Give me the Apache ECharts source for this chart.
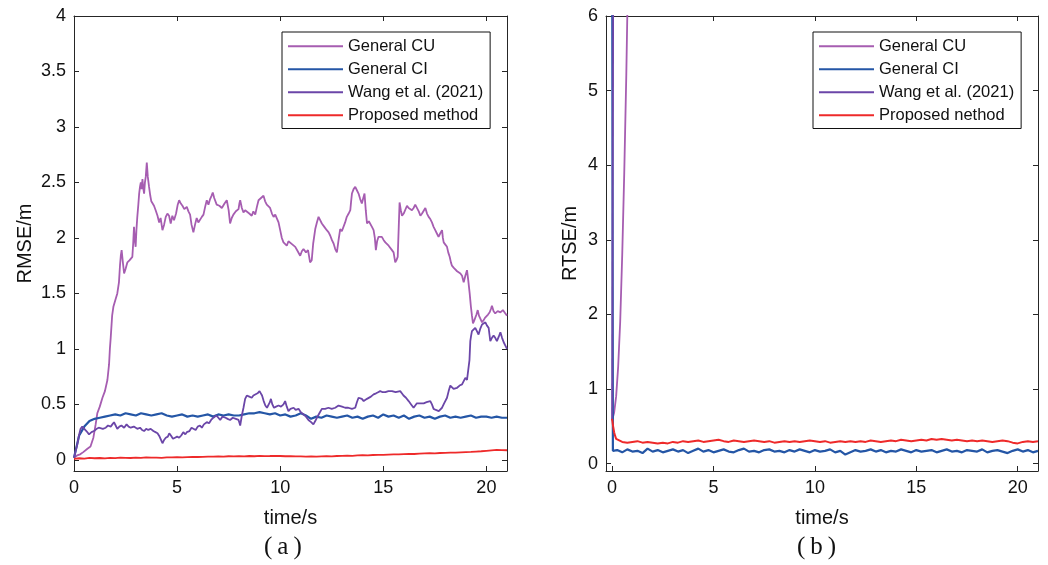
<!DOCTYPE html>
<html>
<head>
<meta charset="utf-8">
<script src="https://cdn.jsdelivr.net/npm/echarts@6/dist/echarts.min.js"></script>
<style>
html,body{margin:0;padding:0;background:#fff;}
#chart{width:1048px;height:565px;}
</style>
</head>
<body>
<div id="chart"></div>
<script>
// ---------- tick labels ----------
const xTicks = [0, 5, 10, 15, 20];
const yTicksA = [0, 0.5, 1, 1.5, 2, 2.5, 3, 3.5, 4];
const yTicksB = [0, 1, 2, 3, 4, 5, 6];
const namesA = ['General CU', 'General CI', 'Wang et al. (2021)', 'Proposed method'];
const namesB = ['General CU', 'General CI', 'Wang et al. (2021)', 'Proposed nethod'];

// ---------- panel (a): RMSE ----------
const cuA = [
[0,0.02],[0.15,0.04],[0.3,0.05],[0.45,0.07],[0.65,0.1],[0.8,0.12],[0.94,0.2],[1.05,0.32],[1.13,0.42],[1.25,0.48],[1.38,0.56],[1.5,0.62],[1.62,0.72],[1.7,0.86],[1.74,1.0],[1.78,1.1],[1.85,1.3],[1.91,1.38],[2.02,1.45],[2.1,1.5],[2.18,1.6],[2.23,1.75],[2.27,1.84],[2.31,1.89],[2.37,1.78],[2.43,1.68],[2.5,1.72],[2.59,1.78],[2.7,1.8],[2.83,1.83],[2.87,1.95],[2.91,2.1],[2.95,1.98],[2.99,1.92],[3.03,2.08],[3.07,2.19],[3.12,2.3],[3.16,2.4],[3.2,2.46],[3.24,2.5],[3.28,2.44],[3.32,2.53],[3.36,2.45],[3.40,2.40],[3.44,2.5],[3.48,2.55],[3.53,2.68],[3.58,2.55],[3.64,2.46],[3.7,2.38],[3.75,2.33],[3.8,2.34],[3.88,2.29],[3.96,2.25],[4.05,2.2],[4.13,2.14],[4.2,2.18],[4.29,2.07],[4.37,2.12],[4.45,2.19],[4.53,2.22],[4.61,2.2],[4.69,2.13],[4.77,2.2],[4.85,2.16],[4.95,2.22],[5.03,2.3],[5.1,2.34],[5.18,2.31],[5.26,2.29],[5.35,2.26],[5.47,2.28],[5.55,2.24],[5.63,2.21],[5.7,2.12],[5.79,2.05],[5.87,2.12],[5.95,2.18],[6.03,2.14],[6.11,2.15],[6.2,2.19],[6.28,2.21],[6.36,2.28],[6.44,2.34],[6.52,2.3],[6.6,2.35],[6.67,2.38],[6.73,2.41],[6.8,2.36],[6.92,2.3],[7.05,2.29],[7.17,2.27],[7.3,2.31],[7.41,2.34],[7.5,2.25],[7.57,2.13],[7.65,2.18],[7.73,2.21],[7.85,2.24],[7.98,2.26],[8.02,2.31],[8.06,2.34],[8.14,2.27],[8.22,2.23],[8.3,2.25],[8.38,2.26],[8.5,2.22],[8.62,2.2],[8.7,2.24],[8.79,2.21],[8.87,2.28],[8.95,2.34],[9.07,2.36],[9.19,2.38],[9.27,2.33],[9.35,2.3],[9.43,2.29],[9.51,2.27],[9.6,2.22],[9.68,2.19],[9.76,2.21],[9.84,2.2],[9.92,2.14],[10.0,2.07],[10.08,2.0],[10.16,1.96],[10.24,1.95],[10.32,1.93],[10.4,1.97],[10.48,1.96],[10.6,1.94],[10.73,1.92],[10.85,1.88],[10.97,1.84],[11.05,1.88],[11.13,1.9],[11.25,1.87],[11.35,1.89],[11.45,1.78],[11.53,1.8],[11.6,1.95],[11.7,2.08],[11.78,2.14],[11.86,2.19],[11.94,2.16],[12.02,2.13],[12.14,2.1],[12.26,2.07],[12.35,2.05],[12.43,2.02],[12.51,1.98],[12.59,1.95],[12.67,1.9],[12.75,1.87],[12.83,1.98],[12.91,2.08],[12.99,2.06],[13.07,2.07],[13.15,2.14],[13.23,2.19],[13.32,2.22],[13.40,2.25],[13.44,2.33],[13.48,2.40],[13.56,2.44],[13.64,2.46],[13.72,2.43],[13.80,2.40],[13.88,2.35],[13.96,2.31],[14.03,2.36],[14.09,2.40],[14.15,2.25],[14.21,2.13],[14.3,2.15],[14.37,2.14],[14.45,2.1],[14.53,2.07],[14.59,2.0],[14.64,1.89],[14.7,1.97],[14.77,2.01],[14.85,2.0],[14.93,2.01],[15.02,1.98],[15.1,1.96],[15.18,1.95],[15.26,1.93],[15.34,1.92],[15.42,1.89],[15.5,1.87],[15.58,1.78],[15.64,1.8],[15.7,1.83],[15.75,2.1],[15.79,2.32],[15.85,2.25],[15.91,2.2],[15.99,2.22],[16.07,2.23],[16.15,2.29],[16.23,2.27],[16.31,2.26],[16.39,2.25],[16.47,2.27],[16.55,2.3],[16.63,2.29],[16.72,2.24],[16.8,2.2],[16.88,2.22],[16.96,2.23],[17.04,2.27],[17.12,2.22],[17.2,2.19],[17.28,2.17],[17.36,2.14],[17.44,2.1],[17.52,2.07],[17.6,2.04],[17.68,2.01],[17.76,2.04],[17.85,2.07],[17.89,2.0],[17.93,1.96],[18.01,1.94],[18.09,1.92],[18.15,1.87],[18.22,1.83],[18.28,1.78],[18.33,1.75],[18.42,1.73],[18.50,1.72],[18.58,1.7],[18.66,1.69],[18.74,1.68],[18.82,1.66],[18.86,1.63],[18.9,1.6],[18.98,1.66],[19.06,1.71],[19.12,1.62],[19.19,1.5],[19.22,1.44],[19.25,1.38],[19.3,1.3],[19.35,1.23],[19.4,1.25],[19.46,1.26],[19.52,1.31],[19.58,1.35],[19.64,1.3],[19.71,1.29],[19.79,1.24],[19.87,1.26],[19.93,1.28],[20.0,1.29],[20.08,1.31],[20.16,1.33],[20.22,1.36],[20.27,1.39],[20.35,1.34],[20.43,1.32],[20.55,1.34],[20.68,1.33],[20.8,1.35],[20.92,1.32],[21,1.3]
];

const wangA = [
[0,0.02],[0.08,0.08],[0.16,0.14],[0.24,0.22],[0.32,0.28],[0.4,0.3],[0.49,0.29],[0.6,0.26],[0.73,0.23],[0.85,0.25],[0.97,0.26],[1.1,0.28],[1.2,0.29],[1.29,0.3],[1.4,0.28],[1.54,0.29],[1.65,0.31],[1.78,0.3],[1.86,0.32],[1.94,0.34],[2.02,0.31],[2.1,0.28],[2.2,0.3],[2.3,0.31],[2.43,0.29],[2.55,0.32],[2.65,0.3],[2.75,0.29],[2.9,0.3],[3.07,0.28],[3.2,0.29],[3.3,0.27],[3.4,0.26],[3.5,0.28],[3.6,0.27],[3.72,0.28],[3.85,0.26],[3.95,0.25],[4.05,0.24],[4.15,0.21],[4.22,0.18],[4.29,0.15],[4.37,0.18],[4.45,0.2],[4.55,0.21],[4.62,0.24],[4.7,0.22],[4.8,0.19],[4.9,0.2],[5.0,0.21],[5.1,0.2],[5.2,0.22],[5.3,0.25],[5.4,0.23],[5.47,0.25],[5.6,0.26],[5.7,0.29],[5.79,0.28],[5.9,0.27],[6.0,0.3],[6.11,0.31],[6.2,0.29],[6.3,0.32],[6.44,0.34],[6.55,0.33],[6.65,0.36],[6.76,0.38],[6.9,0.40],[7.0,0.38],[7.09,0.36],[7.2,0.39],[7.35,0.38],[7.45,0.37],[7.57,0.36],[7.7,0.38],[7.85,0.37],[7.98,0.36],[8.03,0.33],[8.06,0.31],[8.14,0.4],[8.22,0.47],[8.3,0.55],[8.38,0.58],[8.5,0.57],[8.62,0.56],[8.7,0.58],[8.79,0.59],[8.9,0.6],[9.0,0.62],[9.06,0.6],[9.12,0.58],[9.2,0.53],[9.28,0.49],[9.36,0.47],[9.44,0.47],[9.5,0.52],[9.55,0.55],[9.62,0.5],[9.7,0.47],[9.8,0.48],[9.92,0.49],[10.04,0.48],[10.16,0.5],[10.24,0.53],[10.32,0.48],[10.4,0.44],[10.5,0.46],[10.65,0.47],[10.75,0.45],[10.89,0.46],[11.0,0.43],[11.13,0.41],[11.25,0.39],[11.37,0.36],[11.5,0.34],[11.61,0.32],[11.7,0.35],[11.78,0.38],[11.9,0.42],[12.02,0.46],[12.18,0.46],[12.34,0.47],[12.5,0.46],[12.67,0.47],[12.83,0.49],[13.0,0.48],[13.15,0.47],[13.3,0.47],[13.48,0.46],[13.64,0.47],[13.72,0.52],[13.80,0.56],[13.88,0.56],[13.96,0.55],[14.05,0.53],[14.13,0.53],[14.21,0.55],[14.29,0.56],[14.4,0.57],[14.53,0.59],[14.65,0.6],[14.75,0.61],[14.85,0.62],[14.97,0.61],[15.1,0.61],[15.25,0.62],[15.42,0.62],[15.6,0.61],[15.82,0.62],[15.9,0.6],[15.98,0.58],[16.1,0.56],[16.23,0.53],[16.35,0.5],[16.47,0.47],[16.55,0.49],[16.63,0.51],[16.8,0.51],[16.96,0.51],[17.1,0.52],[17.28,0.53],[17.36,0.5],[17.44,0.46],[17.55,0.45],[17.69,0.44],[17.77,0.45],[17.85,0.47],[17.95,0.51],[18.09,0.56],[18.17,0.62],[18.25,0.67],[18.33,0.66],[18.41,0.64],[18.5,0.65],[18.58,0.65],[18.7,0.67],[18.82,0.68],[18.9,0.71],[18.98,0.74],[19.06,0.72],[19.14,0.71],[19.18,0.9],[19.22,1.07],[19.26,1.12],[19.30,1.16],[19.38,1.17],[19.46,1.19],[19.54,1.16],[19.62,1.13],[19.7,1.18],[19.79,1.22],[19.87,1.23],[19.95,1.24],[20.03,1.21],[20.11,1.19],[20.15,1.13],[20.19,1.07],[20.27,1.1],[20.35,1.12],[20.43,1.1],[20.51,1.07],[20.6,1.11],[20.68,1.15],[20.76,1.1],[20.84,1.06],[20.92,1.03],[21,1.0]
];

// uniform samples every 0.25 s, t = 0 .. 21
const ciA = [0.02,
0.22,0.30,0.35,0.37, 0.38,0.39,0.40,0.41, 0.40,0.42,0.41,0.40, 0.42,0.41,0.40,0.41,
0.42,0.40,0.39,0.40, 0.41,0.39,0.40,0.39, 0.40,0.41,0.39,0.41, 0.40,0.41,0.40,0.40,
0.41,0.42,0.42,0.43, 0.42,0.41,0.42,0.40, 0.41,0.39,0.40,0.42, 0.40,0.37,0.39,0.38,
0.40,0.39,0.38,0.39, 0.40,0.38,0.39,0.37, 0.39,0.40,0.38,0.41, 0.39,0.40,0.38,0.40,
0.37,0.39,0.40,0.38, 0.39,0.37,0.39,0.40, 0.38,0.39,0.38,0.39, 0.40,0.38,0.39,0.39,
0.38,0.39,0.38,0.38];
const propA = [0.01,
0.015,0.012,0.018,0.015, 0.017,0.014,0.018,0.016, 0.02,0.018,0.017,0.02, 0.019,0.022,0.02,0.021,
0.019,0.023,0.022,0.024, 0.022,0.025,0.027,0.026, 0.028,0.03,0.029,0.031, 0.03,0.033,0.032,0.034,
0.032,0.035,0.033,0.036, 0.034,0.035,0.037,0.035, 0.033,0.034,0.031,0.032, 0.03,0.031,0.029,0.031,
0.033,0.032,0.035,0.036, 0.038,0.037,0.04,0.042, 0.041,0.044,0.046,0.045, 0.048,0.05,0.049,0.052,
0.054,0.053,0.056,0.058, 0.06,0.059,0.062,0.064, 0.066,0.065,0.068,0.07, 0.072,0.075,0.078,0.082,
0.086,0.09,0.088,0.087];

// ---------- panel (b): RTSE ----------
const cuB = [[0,0.58],[0.1,0.68],[0.2,0.9],[0.3,1.3],[0.4,1.9],[0.5,2.8],[0.6,3.9],[0.7,5.2],[0.8,6.8],[0.9,8.6]];
const wangB = [[0,0.58],[0.08,9]];
const ciBHead = [[0,8],[0.04,0.17]];
const propBHead = [[0,0.6],[0.05,0.5],[0.1,0.42],[0.15,0.37],[0.2,0.33]];
// uniform samples every 0.25 s, t = 0.25 .. 21
const ciB = [
0.18,0.15,0.19,0.16, 0.17,0.14,0.20,0.16, 0.18,0.15,0.17,0.19, 0.16,0.18,0.14,0.17,
0.20,0.16,0.18,0.15, 0.17,0.19,0.16,0.15, 0.18,0.20,0.16,0.17, 0.15,0.18,0.19,0.16,
0.17,0.15,0.18,0.16, 0.19,0.17,0.15,0.18, 0.16,0.17,0.19,0.15, 0.17,0.12,0.15,0.18,
0.16,0.17,0.19,0.16, 0.18,0.15,0.17,0.16, 0.19,0.17,0.15,0.18, 0.16,0.17,0.18,0.15,
0.17,0.19,0.16,0.17, 0.15,0.18,0.17,0.16, 0.19,0.15,0.17,0.18, 0.16,0.14,0.17,0.19,
0.16,0.18,0.15,0.17];
const propB = [
0.31,0.29,0.28,0.29, 0.30,0.28,0.29,0.28, 0.27,0.28,0.27,0.29, 0.28,0.30,0.29,0.30,
0.31,0.29,0.30,0.31, 0.32,0.30,0.29,0.31, 0.30,0.29,0.30,0.31, 0.30,0.29,0.30,0.28,
0.29,0.30,0.29,0.30, 0.29,0.30,0.31,0.30, 0.29,0.30,0.28,0.29, 0.30,0.29,0.30,0.29,
0.30,0.29,0.31,0.30, 0.29,0.30,0.31,0.30, 0.32,0.31,0.30,0.31, 0.32,0.31,0.33,0.32,
0.33,0.32,0.31,0.32, 0.31,0.30,0.31,0.30, 0.31,0.30,0.29,0.30, 0.31,0.30,0.28,0.27,
0.29,0.30,0.29,0.30];

const STEP = 0.25;
function uniform(vals, t0) { return vals.map((v, i) => [t0 + i * STEP, v]); }

const COLORS = { cu: '#A65DB1', ci: '#2456A6', wang: '#6B46A8', prop: '#EE2A2A' };
const FONT = 'Liberation Sans, Arial, Helvetica, sans-serif';
const AXC = '#262626';

function mkX(grid, min, pos, labels, name) {
  return {
    type: 'value', gridIndex: grid, min: min, max: 21, position: pos,
    axisLine: { show: true, onZero: false, lineStyle: { color: AXC, width: 1 } },
    axisTick: { show: true, inside: true, length: 5, customValues: xTicks, lineStyle: { color: AXC } },
    axisLabel: { show: labels, customValues: xTicks, fontSize: 18, fontFamily: FONT, color: '#111', margin: 8 },
    splitLine: { show: false },
    name: name || '', nameLocation: 'middle', nameGap: 37,
    nameTextStyle: { fontSize: 20, fontFamily: FONT, color: '#111' }
  };
}
function mkY(grid, max, ticks, pos, labels, name, gap) {
  return {
    type: 'value', gridIndex: grid, min: -0.1, max: max, position: pos,
    axisLine: { show: true, onZero: false, lineStyle: { color: AXC, width: 1 } },
    axisTick: { show: true, inside: true, length: 5, customValues: ticks, lineStyle: { color: AXC } },
    axisLabel: { show: labels, customValues: ticks, fontSize: 18, fontFamily: FONT, color: '#111', margin: 8,
      formatter: v => String(v) },
    splitLine: { show: false },
    name: name || '', nameLocation: 'middle', nameGap: gap || 40, nameRotate: 90,
    nameTextStyle: { fontSize: 20, fontFamily: FONT, color: '#111' }
  };
}
function line(name, data, color, xi, yi, w) {
  return {
    type: 'line', name: name, data: data, xAxisIndex: xi, yAxisIndex: yi,
    symbol: 'none', showSymbol: false, clip: true, animation: false,
    lineStyle: { color: color, width: w || 1.8 }, itemStyle: { color: color }
  };
}
function legend(left, names) {
  return {
    orient: 'vertical', left: left, top: 32, data: names,
    icon: 'rect',
    backgroundColor: '#fff', borderColor: '#111', borderWidth: 1, borderRadius: 0,
    padding: [5, 7, 4, 6], itemWidth: 55, itemHeight: 2, itemGap: 4.5,
    textStyle: { fontSize: 16.5, fontFamily: FONT, color: '#111', lineHeight: 18.5 },
    selectedMode: false
  };
}

const chart = echarts.init(document.getElementById('chart'), null, { renderer: 'canvas' });
chart.setOption({
  animation: false,
  backgroundColor: '#fff',
  grid: [
    { left: 74, top: 16, width: 433, height: 455 },
    { left: 606, top: 16, width: 432, height: 455 }
  ],
  xAxis: [
    mkX(0, 0, 'bottom', true, 'time/s'),
    mkX(0, 0, 'top', false),
    mkX(1, -0.3, 'bottom', true, 'time/s'),
    mkX(1, -0.3, 'top', false)
  ],
  yAxis: [
    mkY(0, 4, yTicksA, 'left', true, 'RMSE/m', 39),
    mkY(0, 4, yTicksA, 'right', false),
    mkY(1, 6, yTicksB, 'left', true, 'RTSE/m', 26),
    mkY(1, 6, yTicksB, 'right', false)
  ],
  legend: [legend(282, namesA), legend(813, namesB)],
  graphic: [
    { type: 'text', left: 264, top: 535, style: { text: '(\u2009a\u2009)', font: '25px "Liberation Serif", "Times New Roman", serif', fill: '#111' } },
    { type: 'text', left: 797, top: 535, style: { text: '(\u2009b\u2009)', font: '25px "Liberation Serif", "Times New Roman", serif', fill: '#111' } }
  ],
  series: [
    line(namesA[0], cuA, COLORS.cu, 0, 0),
    line(namesA[1], uniform(ciA, 0), COLORS.ci, 0, 0, 2.2),
    line(namesA[2], wangA, COLORS.wang, 0, 0),
    line(namesA[3], uniform(propA, 0), COLORS.prop, 0, 0),
    line(namesB[0], cuB, COLORS.cu, 2, 2),
    line(namesB[1], ciBHead.concat(uniform(ciB, 0.25)), COLORS.ci, 2, 2, 2.2),
    line(namesB[2], wangB, COLORS.wang, 2, 2),
    line(namesB[3], propBHead.concat(uniform(propB, 0.25)), COLORS.prop, 2, 2, 2)
  ]
});
</script>
</body>
</html>
